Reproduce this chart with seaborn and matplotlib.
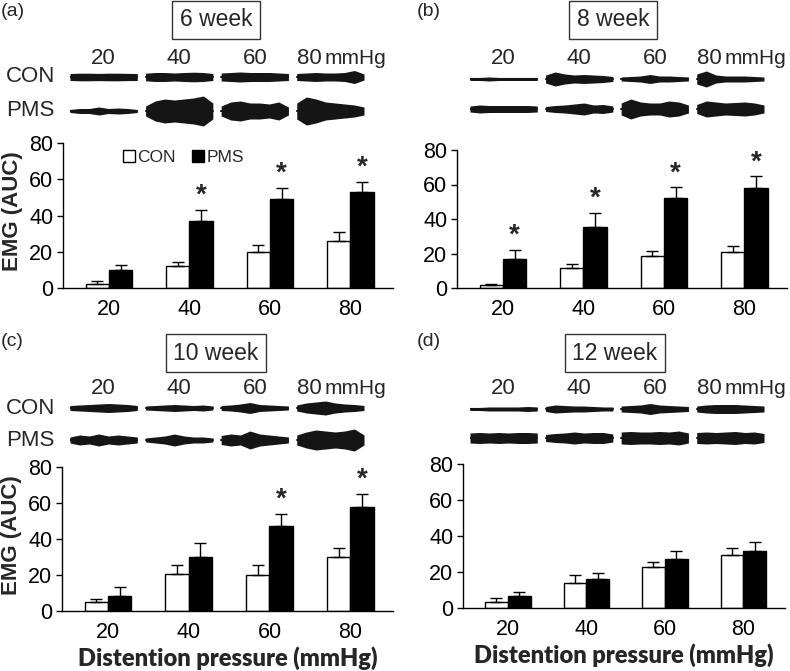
import numpy as np
import pandas as pd
import seaborn as sns
import matplotlib.pyplot as plt

# ---- data ----
pressures = ["20", "40", "60", "80"]
groups = ["CON", "PMS"]
weeks = ["6 week", "8 week", "10 week", "12 week"]
panel_tags = ["(a)", "(b)", "(c)", "(d)"]

con_mean = [[2.4, 12.0, 19.9, 25.7], [1.9, 11.6, 18.7, 20.8],
            [5.0, 20.5, 19.9, 30.2], [3.3, 14.0, 22.7, 29.5]]
con_sem = [[1.3, 2.3, 3.6, 5.2], [0.6, 2.3, 2.9, 3.7],
           [1.9, 5.0, 5.6, 4.6], [2.4, 4.1, 3.1, 3.9]]
pms_mean = [[9.7, 37.1, 49.1, 52.9], [16.8, 35.6, 52.0, 57.8],
            [8.4, 29.8, 47.5, 57.8], [6.6, 16.2, 27.1, 31.8]]
pms_sem = [[3.0, 6.1, 6.0, 5.7], [5.4, 8.1, 6.4, 7.1],
           [5.0, 7.8, 6.3, 7.2], [2.3, 3.2, 4.3, 5.1]]
significant = [[False, True, True, True], [True, True, True, True],
               [False, False, True, True], [False, False, False, False]]

# EMG trace envelopes (half height, px) per panel, group, pressure
con_trace = [
    [[3.5, 3.8, 3.8, 3.6, 3.8, 3.8, 3.6, 3.5], [3.8, 4.5, 4.5, 4.0, 4.5, 4.8, 4.5, 3.5],
     [4.0, 4.5, 5.0, 4.5, 4.5, 4.5, 4.0, 3.5], [3.5, 4.0, 4.5, 4.0, 4.0, 4.5, 6.5, 3.0]],
    [[1.5, 1.5, 2.0, 1.5, 1.5, 1.5, 1.5, 1.5], [4.0, 7.0, 5.0, 4.0, 4.5, 4.0, 3.5, 2.5],
     [2.0, 2.5, 3.0, 4.5, 3.0, 3.0, 2.5, 2.0], [5.0, 8.0, 4.0, 3.0, 3.0, 3.0, 2.5, 2.0]],
    [[2.5, 3.0, 3.5, 4.0, 4.5, 4.0, 3.5, 2.5], [2.0, 2.5, 3.0, 3.5, 3.0, 2.5, 3.0, 2.0],
     [2.5, 3.0, 4.0, 5.5, 3.5, 3.0, 2.5, 2.0], [3.0, 5.0, 6.0, 7.0, 5.0, 4.0, 3.5, 2.5]],
    [[1.5, 1.5, 2.0, 2.0, 2.0, 2.0, 2.5, 2.0], [2.5, 4.0, 3.5, 3.0, 3.0, 2.5, 2.0, 2.0],
     [3.0, 3.5, 4.0, 5.5, 4.0, 3.5, 3.0, 2.5], [3.0, 4.0, 4.5, 4.5, 4.5, 4.0, 3.5, 3.0]],
]
pms_trace = [
    [[1.5, 2.5, 2.5, 4.0, 2.5, 3.0, 2.5, 1.5], [5.0, 10.0, 12.0, 11.0, 12.0, 13.0, 15.0, 8.0],
     [5.0, 9.0, 10.0, 8.0, 8.0, 7.0, 9.0, 4.0], [8.0, 14.0, 12.0, 9.0, 8.0, 7.0, 6.0, 4.0]],
    [[3.0, 4.0, 3.5, 3.5, 3.5, 3.5, 3.5, 3.0], [2.5, 3.5, 4.0, 5.0, 6.0, 4.0, 4.5, 3.0],
     [6.0, 10.0, 7.0, 6.0, 6.0, 8.0, 7.0, 4.0], [4.5, 8.0, 7.0, 6.0, 6.5, 7.0, 6.0, 4.0]],
    [[3.0, 5.0, 4.0, 6.0, 4.0, 5.0, 4.0, 3.0], [2.0, 3.0, 4.0, 6.0, 4.0, 3.0, 3.0, 2.0],
     [4.5, 6.0, 5.0, 9.0, 6.0, 5.0, 4.0, 3.0], [5.0, 8.0, 10.0, 9.0, 8.0, 9.0, 11.0, 5.0]],
    [[5.0, 5.5, 5.0, 5.5, 5.0, 5.5, 5.5, 5.0], [3.5, 4.5, 5.0, 6.0, 5.0, 5.5, 5.5, 4.0],
     [6.0, 6.5, 6.0, 6.0, 6.5, 6.0, 7.0, 5.0], [5.5, 6.0, 5.5, 6.0, 6.5, 5.5, 6.0, 4.5]],
]

# ---- layout (pixels) ----
W, H = 790, 671
bar_box = [(63, 143, 393, 288), (457, 150, 787, 288),
           (62, 467, 393, 611), (463, 464, 785, 608)]
trace_x = [(70, 364), (470, 764), (70, 364), (470, 764)]
trace_rows = [(77, 111), (79, 109), (408, 440), (409, 438)]
label_y = [58, 58, 388, 388]
title_xy = [(216, 20), (613, 20), (216, 353), (615, 353)]
tag_xy = [(1, 12), (417, 12), (1, 342), (417, 342)]


def px_rect(l, t, r, b):
    return [l / W, 1 - b / H, (r - l) / W, (b - t) / H]


sns.set_theme(style="ticks")
plt.rcParams["font.family"] = ["Liberation Sans", "DejaVu Sans"]

fig = plt.figure(figsize=(7.9, 6.71), dpi=100)

for p in range(4):
    # ---- bar chart ----
    ax = fig.add_axes(px_rect(*bar_box[p]))
    df = pd.DataFrame({
        "pressure": pressures * 2,
        "group": ["CON"] * 4 + ["PMS"] * 4,
        "emg": con_mean[p] + pms_mean[p],
    })
    sns.barplot(data=df, x="pressure", y="emg", hue="group", hue_order=groups,
                palette={"CON": "white", "PMS": "black"}, edgecolor="black",
                linewidth=1, width=0.58, gap=0, errorbar=None,
                legend=(p == 0), ax=ax)
    for k, (cont, sem) in enumerate(zip(ax.containers, [con_sem[p], pms_sem[p]])):
        xs = [b.get_x() + b.get_width() / 2 for b in cont]
        ys = [b.get_height() for b in cont]
        ax.errorbar(xs, ys, yerr=[np.zeros(4), sem], fmt="none", ecolor="black",
                    elinewidth=1, capsize=4, capthick=1)
        if k == 1:
            for x, y, s, sig in zip(xs, ys, sem, significant[p]):
                if sig:
                    ax.text(x, y + s + 8, "*", ha="center", va="center",
                            fontsize=20, fontweight="bold")
    ax.set_ylim(0, 80)
    ax.set_yticks([0, 20, 40, 60, 80])
    ax.set_xlim(-0.57, 3.53)
    ax.tick_params(axis="y", length=4, width=1, labelsize=15.5, pad=3, colors="black")
    ax.tick_params(axis="x", length=0, labelsize=15.5, pad=8, colors="black")
    sns.despine(ax=ax)
    for s in ["left", "bottom"]:
        ax.spines[s].set_color("black")
        ax.spines[s].set_linewidth(1)
    if p in (0, 2):
        ax.set_ylabel("EMG (AUC)", fontsize=16, fontweight="bold")
        ax.yaxis.set_label_coords(-0.12, 0.53)
    else:
        ax.set_ylabel("")
    if p in (2, 3):
        ax.set_xlabel("Distention pressure (mmHg)", fontsize=17, fontweight="heavy",
                      family=["Lato", "DejaVu Sans"], labelpad=2)
    else:
        ax.set_xlabel("")
    if p == 0:
        ax.legend(loc="upper left", bbox_to_anchor=(0.16, 1.0), ncol=2,
                  frameon=False, fontsize=12.5, handlelength=0.7, handleheight=0.7,
                  handletextpad=0.15, columnspacing=0.9, borderaxespad=0)

    # ---- EMG traces ----
    x0, x1 = trace_x[p]
    y_con, y_pms = trace_rows[p]
    top_px, bot_px = label_y[p] - 14, y_pms + 20
    tax = fig.add_axes(px_rect(x0, top_px, x1, bot_px))
    tax.set_xlim(0, 3.89)
    tax.set_ylim(bot_px - y_con, top_px - y_con)
    tax.axis("off")
    for i in range(4):
        xs = np.linspace(i, i + 0.89, 8)
        for row_y, env in [(0, con_trace[p][i]), (y_pms - y_con, pms_trace[p][i])]:
            env = np.array(env)
            tax.fill_between(xs, row_y - env, row_y + env, color="#151515", lw=0)
            tax.plot([i, i + 0.89], [row_y, row_y], color="#151515", lw=1.5)
        if i < 3:
            tax.text(i + 0.445, label_y[p] - y_con, pressures[i], ha="center",
                     va="center", fontsize=16)
        else:
            tax.text(i + 0.0, label_y[p] - y_con, pressures[i], ha="left",
                     va="center", fontsize=16)
            tax.text(i + 0.37, label_y[p] - y_con, "mmHg", ha="left",
                     va="center", fontsize=15)
    if p in (0, 2):
        tax.text(-0.2, 0, "CON", ha="right", va="center", fontsize=16)
        tax.text(-0.2, y_pms - y_con, "PMS", ha="right", va="center", fontsize=16)

    # ---- titles and tags ----
    tx, ty = title_xy[p]
    fig.text(tx / W, 1 - ty / H, weeks[p], ha="center", va="center", fontsize=16.5,
             bbox=dict(boxstyle="square,pad=0.33", fc="white", ec="#333333", lw=1))
    gx, gy = tag_xy[p]
    fig.text(gx / W, 1 - gy / H, panel_tags[p], ha="left", va="center", fontsize=14)

fig.savefig("out.png", dpi=100)
